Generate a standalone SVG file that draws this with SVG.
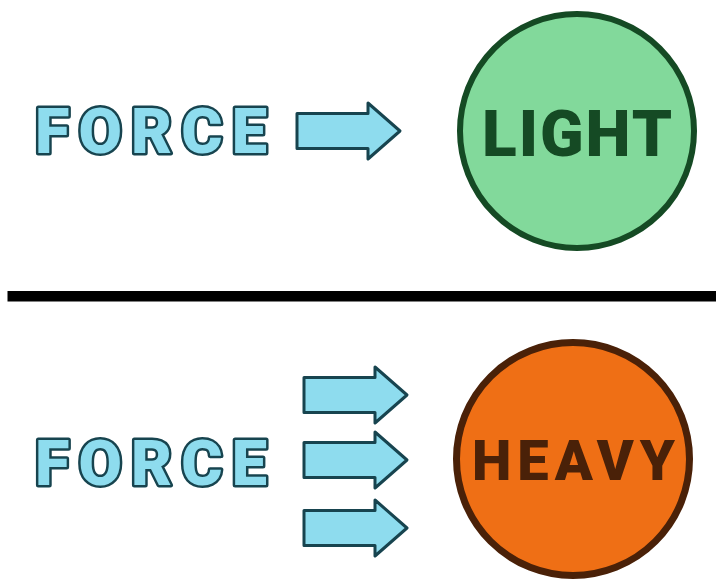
<svg xmlns="http://www.w3.org/2000/svg" width="716" height="579" viewBox="0 0 716 579">
<style>
.force{font-family:Roboto,"Liberation Sans",Arial,sans-serif;font-weight:900;font-size:63px;fill:#8edcee;stroke:#17444f;stroke-width:5;stroke-linejoin:round;paint-order:stroke fill}
.arrow{fill:#8edcee;stroke:#17444f;stroke-width:3;stroke-linejoin:round}
.lbl{font-family:Roboto,"Liberation Sans",Arial,sans-serif;font-weight:900}
</style>
<defs>
<path id="arr" d="M0,-17.5 H71 V-28 L103,0 L71,28 V17.5 H0 Z"/>
</defs>
<rect width="716" height="579" fill="#ffffff"/>
<rect x="7.5" y="291" width="709" height="10.5" fill="#000000"/>
<g id="force-top"><text class="force" x="35" y="153" textLength="232" lengthAdjust="spacing">FORCE</text></g>
<g id="force-bottom"><text class="force" x="35" y="485" textLength="232" lengthAdjust="spacing">FORCE</text></g>
<g id="light">
<circle cx="577" cy="131" r="117" fill="#82d99b" stroke="#154a24" stroke-width="6"/>
<text class="lbl" x="482" y="156" font-size="64" fill="#154a24" textLength="190" lengthAdjust="spacing">LIGHT</text>
</g>
<g id="heavy">
<circle cx="573" cy="459" r="116.5" fill="#ef6f15" stroke="#4a2108" stroke-width="7"/>
<text class="lbl" x="472" y="480" font-size="56" fill="#4a2108" textLength="203" lengthAdjust="spacing">HEAVY</text>
</g>
<g id="connectors">
<use href="#arr" class="arrow" transform="translate(297,131)"/>
<use href="#arr" class="arrow" transform="translate(304,395)"/>
<use href="#arr" class="arrow" transform="translate(304,460)"/>
<use href="#arr" class="arrow" transform="translate(304,528)"/>
</g>
</svg>
